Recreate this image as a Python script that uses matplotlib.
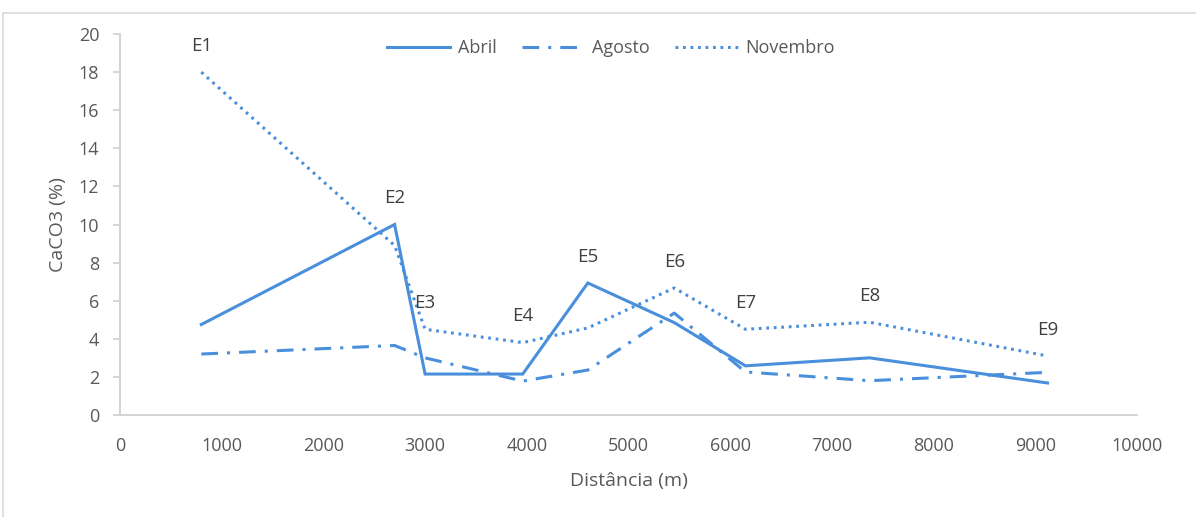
import matplotlib.pyplot as plt
from matplotlib.patches import Rectangle

# Distância (m) de cada estação e teor de CaCO3 (%) por campanha
estacoes = ['E1', 'E2', 'E3', 'E4', 'E5', 'E6', 'E7', 'E8', 'E9']
distancia = [800, 2700, 3000, 3960, 4600, 5450, 6150, 7370, 9120]
abril = [4.75, 10.0, 2.15, 2.15, 6.93, 4.85, 2.58, 3.0, 1.68]
agosto = [3.2, 3.65, 3.0, 1.78, 2.36, 5.35, 2.26, 1.8, 2.24]
novembro = [18.0, 8.9, 4.5, 3.8, 4.57, 6.67, 4.5, 4.87, 3.1]

azul = '#4a8fdb'
cinza_txt = '#595959'
cinza_eixo = '#d0d0d0'

plt.rcParams['font.family'] = ['Open Sans', 'DejaVu Sans']
plt.rcParams['lines.scale_dashes'] = False

fig = plt.figure(figsize=(11.96, 5.17), dpi=100)
ax = fig.add_axes([0.1003, 0.1973, 0.8504, 0.7369])

# moldura do gráfico
fig.patches.append(Rectangle((3 / 1196, -0.1), 1.2, 1 - 13 / 517 + 0.1,
                             transform=fig.transFigure, fill=False,
                             edgecolor='#d9d9d9', linewidth=1.2))

lw = 2.2
ax.plot(distancia, abril, color=azul, lw=lw, label='Abril',
        solid_joinstyle='miter')
ax.plot(distancia, agosto, color=azul, lw=lw, label='Agosto',
        dashes=(12, 6.5, 2.2, 6.5), dash_joinstyle='round')
ax.plot(distancia, novembro, color=azul, lw=lw, label='Novembro',
        dashes=(2.0, 3.4), dash_joinstyle='round')

# rótulo de cada estação acima do maior valor
for nome, x, a, g, n in zip(estacoes, distancia, abril, agosto, novembro):
    ax.annotate(nome, (x, max(a, g, n)), xytext=(0, 19),
                textcoords='offset points', ha='center', va='center',
                fontsize=13.5, color='#404040')

ax.set_xlim(0, 10000)
ax.set_ylim(0, 20)
ax.set_xticks(range(0, 10001, 1000))
ax.set_yticks(range(0, 21, 2))

for s in ['top', 'right']:
    ax.spines[s].set_visible(False)
for s in ['left', 'bottom']:
    ax.spines[s].set_color(cinza_eixo)
    ax.spines[s].set_linewidth(1.3)

ax.tick_params(axis='y', length=5, width=1.2, color=cinza_eixo,
               labelsize=13, labelcolor=cinza_txt, pad=10)
ax.tick_params(axis='x', length=0, labelsize=13, labelcolor=cinza_txt,
               pad=16)

ax.set_xlabel('Distância (m)', fontsize=14, color=cinza_txt, labelpad=12)
ax.set_ylabel('CaCO3 (%)', fontsize=14, color=cinza_txt, labelpad=8)

leg = ax.legend(loc='center', bbox_to_anchor=(611 / 1196, 1 - 48 / 517),
                bbox_transform=fig.transFigure, ncol=3, frameon=False,
                fontsize=13, handlelength=3.5, handletextpad=0.4,
                columnspacing=1.4)
for t in leg.get_texts():
    t.set_color(cinza_txt)

fig.savefig('out.png', dpi=100)
